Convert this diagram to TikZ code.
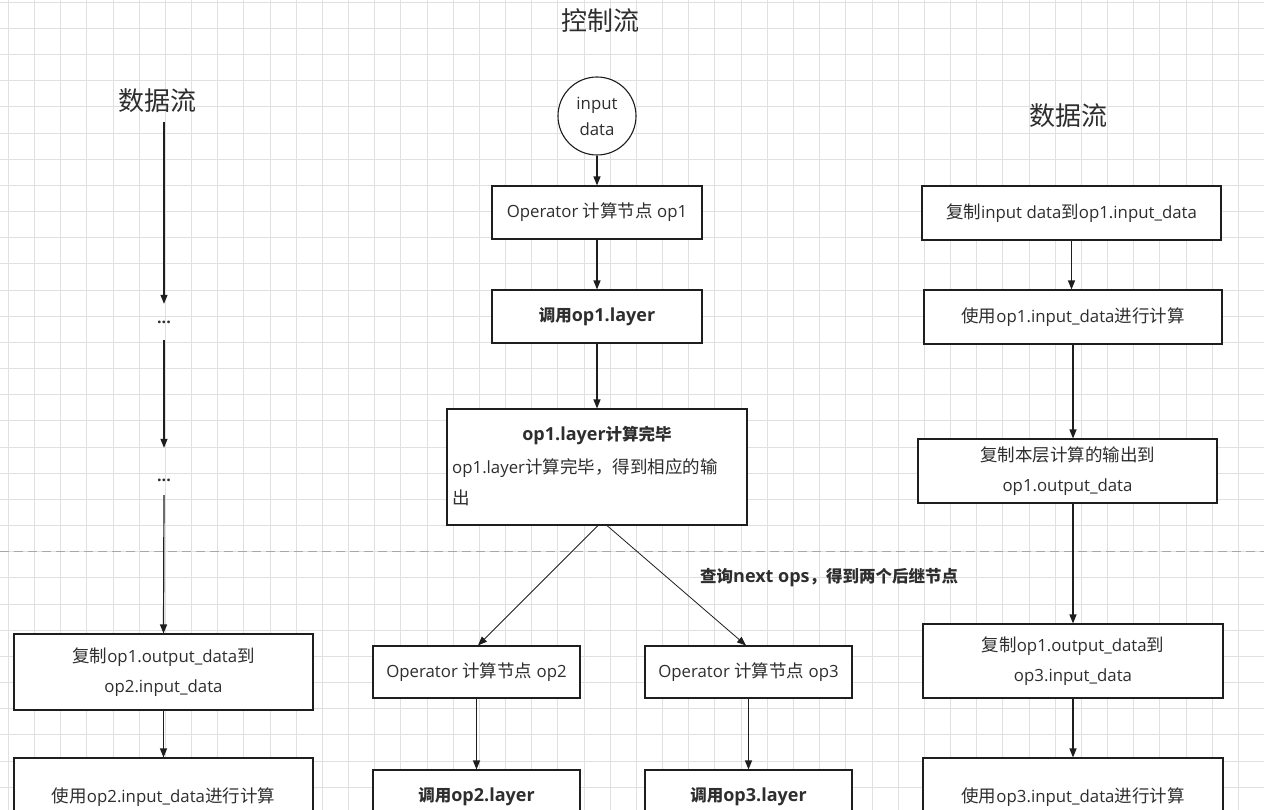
\documentclass[tikz,border=0pt]{standalone}
\usepackage{fontspec}
\setmainfont{Open Sans}
\newfontfamily\zhfont{Noto Sans CJK SC}
\newcommand\zh[1]{{\zhfont\fontsize{17.5}{30}\selectfont #1}}
\newcommand\zhb[1]{{\zhfont\bfseries\fontsize{16.5}{30}\selectfont #1}}
\usetikzlibrary{arrows.meta}
\definecolor{gridc}{HTML}{E0E0E0}
\definecolor{txt}{HTML}{2E2E2E}
\definecolor{edge}{HTML}{1E1E1E}
\definecolor{dashc}{HTML}{A8A8A8}
\begin{document}
\begin{tikzpicture}[x=1pt,y=-1pt,
  every node/.style={text=txt, font=\fontsize{16.8}{30}\selectfont},
  box/.style={draw=edge, line width=1.1pt, fill=white, inner sep=2pt, align=center},
  ttl/.style={font=\zhfont\fontsize{26}{30}\selectfont, inner sep=0pt},
  dots/.style={font=\fontsize{16}{20}\selectfont\bfseries, inner sep=0pt},
  arr/.style={draw=edge, line width=1.2pt, -{Triangle[length=9pt,width=7pt]}},
  bold/.style={font=\fontsize{18}{30}\selectfont\bfseries}]
\useasboundingbox (0,0) rectangle (1264,810);
\fill[white] (0,0) rectangle (1264,810);
\foreach \k in {0,...,48} {\draw[gridc, line width=0.8pt] ({8.3+26.17*\k},0) -- ({8.3+26.17*\k},810);}
\foreach \k in {0,...,30} {\draw[gridc, line width=0.8pt] (0,{2.1+26.17*\k}) -- (1264,{2.1+26.17*\k});}
\draw[dashc, line width=1pt, dash pattern=on 9pt off 5pt] (0,551) -- (1264,551);

% titles
\node[ttl] (ct) at (600,21) {控制流};
\node[ttl, minimum height=42pt] (Lt) at (157,101) {数据流};
\node[ttl] (Rt) at (1068,116) {数据流};

% control flow
\node[draw=edge, line width=1.1pt, circle, fill=white, minimum size=78pt, inner sep=0pt, align=center,
      font=\fontsize{16.8}{26}\selectfont] (in) at (597,116) {input\\data};
\node[box, minimum width=210pt, minimum height=53pt] (op1) at (597,212.5) {Operator \zh{计算节点} op1};
\node[box, bold, minimum width=210pt, minimum height=53pt] (lay1) at (597,316.5) {\zhb{调用}op1.layer};
\node[box, minimum width=300pt, minimum height=116pt] (done1) at (597,467) {};
\node[bold, inner sep=0pt] (done1t) at (597,436) {op1.layer\zhb{计算完毕}};
\node[anchor=west, inner sep=0pt] (done1b) at (452,468) {op1.layer\zh{计算完毕，得到相应的输}};
\node[anchor=west, inner sep=0pt] (done1c) at (452,498) {\zh{出}};
\node[bold, inner sep=0pt, anchor=west] (q) at (700,578) {\zhb{查询}next ops\zhb{，得到两个后继节点}};
\node[box, minimum width=207pt, minimum height=52pt] (op2) at (476.5,672) {Operator \zh{计算节点} op2};
\node[box, minimum width=207pt, minimum height=52pt] (op3) at (748.5,672) {Operator \zh{计算节点} op3};
\node[box, bold, minimum width=207pt, minimum height=53pt] (lay2) at (476.5,796.5) {\zhb{调用}op2.layer};
\node[box, bold, minimum width=207pt, minimum height=53pt] (lay3) at (748.5,796.5) {\zhb{调用}op3.layer};

\draw[arr] (in.south) -- (op1.north);
\draw[arr] (op1.south) -- (lay1.north);
\draw[arr] (lay1.south) -- (done1.north);
\draw[arr, line width=0.8pt] ([xshift=1pt]done1.south) -- ([xshift=1.5pt]op2.north);
\draw[arr, line width=0.8pt] ([xshift=10pt]done1.south) -- ([xshift=-2.5pt]op3.north);
\draw[arr] (op2.south) -- (lay2.north);
\draw[arr] (op3.south) -- (lay3.north);

% left data flow
\node[dots, minimum height=36pt] (D1) at (164,322) {...};
\node[dots, minimum height=30pt] (D2) at (164,480) {...};
\node[box, minimum width=299pt, minimum height=76pt] (L1) at (163.5,672) {\zh{复制}op1.output\_data\zh{到}\\op2.input\_data};
\node[box, minimum width=299pt, minimum height=78pt] (L2) at (163.5,797) {\zh{使用}op2.input\_data\zh{进行计算}};
\draw[arr] (Lt.south -| D1.north) -- (D1.north);
\draw[arr, shorten >=17pt] (D1.south) -- (D2.north);
\draw[arr] (D2.south) -- (L1.north);
\draw[arr] (L1.south) -- (L2.north);

% right data flow
\node[box, minimum width=299pt, minimum height=54pt] (R1) at (1071.5,213) {\zh{复制}input data\zh{到}op1.input\_data};
\node[box, minimum width=298pt, minimum height=54pt] (R2) at (1073,317) {\zh{使用}op1.input\_data\zh{进行计算}};
\node[box, minimum width=299pt, minimum height=64pt] (R3) at (1067.5,471) {\zh{复制本层计算的输出到}\\op1.output\_data};
\node[box, minimum width=300pt, minimum height=74pt] (R4) at (1073,661) {\zh{复制}op1.output\_data\zh{到}\\op3.input\_data};
\node[box, minimum width=300pt, minimum height=78pt] (R5) at (1073,797) {\zh{使用}op3.input\_data\zh{进行计算}};
\draw[arr] (R1.south) -- (R1.south |- R2.north);
\draw[arr] (R2.south -| R4.north) -- (R3.north -| R4.north);
\draw[arr] (R3.south -| R4.north) -- (R4.north);
\draw[arr] (R4.south) -- (R5.north);
\end{tikzpicture}
\end{document}
